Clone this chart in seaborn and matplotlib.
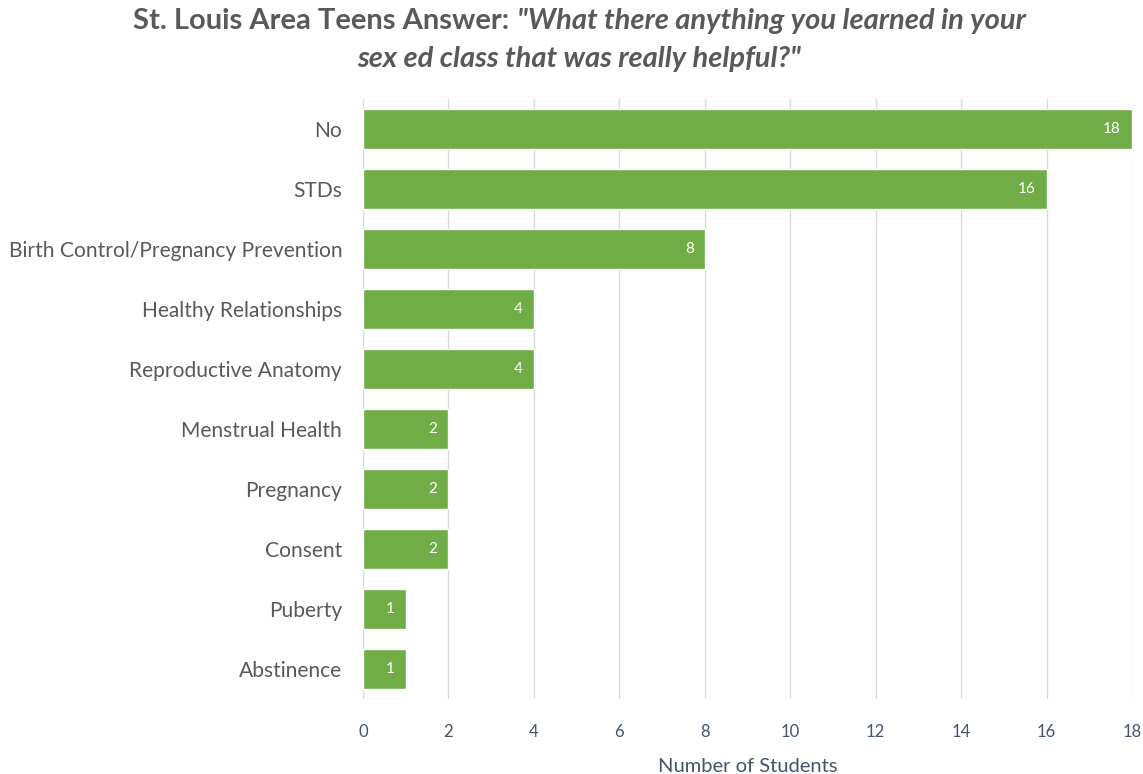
import matplotlib
matplotlib.use("Agg")
import matplotlib.pyplot as plt
import seaborn as sns
import pandas as pd

categories = ["No", "STDs", "Birth Control/Pregnancy Prevention", "Healthy Relationships",
              "Reproductive Anatomy", "Menstrual Health", "Pregnancy", "Consent",
              "Puberty", "Abstinence"]
counts = [18, 16, 8, 4, 4, 2, 2, 2, 1, 1]
xticks = [0, 2, 4, 6, 8, 10, 12, 14, 16, 18]

df = pd.DataFrame({"category": categories, "count": counts})

sns.set_theme(style="white")
FONT = ["Lato", "DejaVu Sans"]
plt.rcParams["font.family"] = FONT

fig = plt.figure(figsize=(11.43, 7.74), dpi=100)
ax = fig.add_axes([363/1143, 1-699/774, (1132-363)/1143, 600/774])

green = "#70AD47"
sns.barplot(data=df, y="category", x="count", color=green, saturation=1,
            width=0.67, ax=ax, orient="h")

ax.set_xlim(0, 18)
ax.set_ylim(9.5, -0.5)
ax.set_xticks(xticks)
ax.xaxis.grid(True, color="#D9D9D9", linewidth=1)
ax.set_axisbelow(True)
for s in ax.spines.values():
    s.set_visible(False)
ax.tick_params(axis="x", length=0, pad=18, labelsize=12, labelcolor="#44546A")
ax.tick_params(axis="y", length=0, pad=15, labelsize=15.1, labelcolor="#595959")
ax.set_ylabel("")
ax.set_xlabel("Number of Students", fontsize=14.5, color="#44546A", labelpad=13)

for i, v in enumerate(counts):
    ax.annotate(str(v), (v, i), xytext=(-8, 0), textcoords="offset points",
                ha="right", va="center", color="white", fontsize=11)

# Title with mixed styles
fig.canvas.draw()
r = fig.canvas.get_renderer()
tcolor = "#595959"
tsize = 21
y1 = 1 - 21/774
y2 = 1 - 59/774
cx = 0.507
t1 = fig.text(0, y1, "St. Louis Area Teens Answer: ", fontsize=tsize, fontweight="bold",
              color=tcolor, va="center", ha="left")
t2 = fig.text(0, y1, "\"What there anything you learned in your", fontsize=tsize,
              fontweight="bold", fontstyle="italic", color=tcolor, va="center", ha="left")
w1 = t1.get_window_extent(r).width / fig.bbox.width
w2 = t2.get_window_extent(r).width / fig.bbox.width
start = cx - (w1 + w2) / 2
t1.set_x(start)
t2.set_x(start + w1)
fig.text(cx, y2, "sex ed class that was really helpful?\"", fontsize=tsize, fontweight="bold",
         fontstyle="italic", color=tcolor, va="center", ha="center")

fig.savefig("out.png", dpi=100)
